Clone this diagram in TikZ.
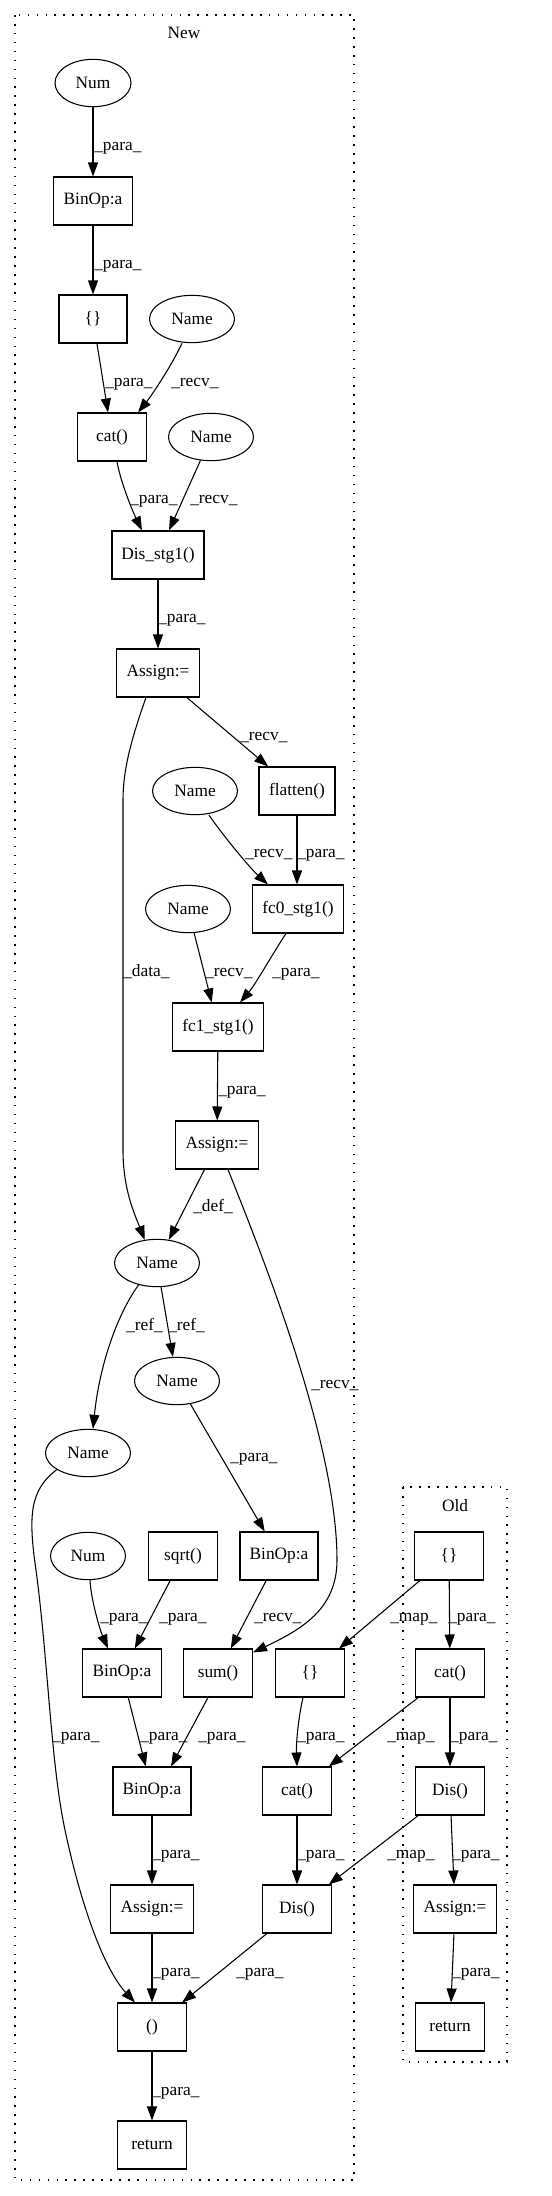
\documentclass[tikz,border=0pt]{standalone}
\usepackage{fontspec}
\setmainfont{Liberation Serif}
\usetikzlibrary{arrows.meta,calc,shapes.geometric}
\begin{document}
\begin{tikzpicture}[x=0.75pt,y=-0.75pt,
  every node/.style={font=\fontsize{13pt}{15pt}\selectfont},
  box/.style={draw,rectangle,line width=0.8pt,minimum height=36pt,inner sep=0pt},
  ell/.style={draw,ellipse,line width=0.8pt,minimum height=35.5pt,minimum width=63.75pt,inner sep=0pt},
  lbl/.style={anchor=base west,inner sep=0pt},
  edge/.style={line width=0.8pt,-{Triangle[length=10.5pt,width=7.5pt]}},
  cluster/.style={line width=0.9pt,dash pattern=on 1.2pt off 5.5pt}]
\useasboundingbox (0,0) rectangle (551,2196);
% clusters
\draw[cluster] (15,15) rectangle (354,2180);
\node[anchor=base] (tnew) at (184,38) {New};
\draw[cluster] (403,1487) rectangle (507,2062);
\node[anchor=base] (told) at (455,1511) {Old};
% New nodes
\node[ell,minimum width=57pt] (num1) at (93,83) {Num};
\node[box,minimum width=59.25pt] (bin1) at (93,201) {BinOp:a};
\node[box,minimum width=51pt] (br1) at (93,319) {\{\}};
\node[ell] (name1) at (192,319) {Name};
\node[box,minimum width=51.75pt] (cat1) at (112,437) {cat()};
\node[ell] (name2) at (211,437) {Name};
\node[box,minimum width=69pt] (dis1) at (158,555) {Dis\_stg1()};
\node[box,minimum width=62.25pt] (asg1) at (158,673) {Assign:=};
\node[ell] (name3) at (195,791) {Name};
\node[box,minimum width=57pt] (flat) at (297,791) {flatten()};
\node[ell] (name4) at (188,909) {Name};
\node[box,minimum width=68.25pt] (fc0) at (298,909) {fc0\_stg1()};
\node[box,minimum width=68.25pt] (fc1) at (218,1027) {fc1\_stg1()};
\node[box,minimum width=62.25pt] (asg2) at (217,1145) {Assign:=};
\node[ell] (name5) at (157,1263) {Name};
\node[ell] (name6) at (177,1381) {Name};
\node[ell] (name7) at (88,1453) {Name};
\node[ell,minimum width=56.25pt] (num2) at (88,1556) {Num};
\node[box,minimum width=51.75pt] (sqrt) at (183,1556) {sqrt()};
\node[box,minimum width=58.5pt] (bin2) at (279,1556) {BinOp:a};
\node[box,minimum width=59.25pt] (bin3) at (122,1673) {BinOp:a};
\node[box,minimum width=51.75pt] (sum) at (218,1673) {sum()};
\node[box,minimum width=51.75pt] (br2) at (310,1673) {\{\}};
\node[box,minimum width=58.5pt] (bin4) at (152,1791) {BinOp:a};
\node[box,minimum width=51.75pt] (cat2) at (297,1791) {cat()};
\node[box,minimum width=62.25pt] (asg3) at (152,1909) {Assign:=};
\node[box,minimum width=51.75pt] (dis2) at (297,1909) {Dis()};
\node[box,minimum width=51.75pt] (tup) at (152,2027) {()};
\node[box,minimum width=51.75pt] (ret1) at (152,2145) {return};
% Old nodes
\node[box,minimum width=51.75pt] (br3) at (449,1556) {\{\}};
\node[box,minimum width=51.75pt] (cat3) at (450,1673) {cat()};
\node[box,minimum width=51.75pt] (dis3) at (450,1791) {Dis()};
\node[box,minimum width=62.25pt] (asg4) at (455,1909) {Assign:=};
\node[box,minimum width=51.75pt] (ret2) at (450,2027) {return};
% edges
\draw[edge] (num1) -- (bin1);
\draw[edge] (bin1) -- (br1);
\draw[edge] (br1) -- (cat1);
\draw[edge] ($(name1.south)+(-10,0)$) .. controls (172,365) and (152,395) .. ($(cat1.north)+(26,0)$);
\draw[edge] ($(cat1.south)+(5,0)$) .. controls (120,480) and (132,510) .. ($(dis1.north)+(-16,0)$);
\draw[edge] (name2) -- (dis1);
\draw[edge] (dis1) -- (asg1);
\draw[edge] (asg1) -- (flat);
\draw[edge] ($(asg1.south)+(-12,0)$) .. controls (131,740) and (123,770) .. (123,800) -- (123,1150) .. controls (123,1190) and (135,1215) .. (name5.118);
\draw[edge] ($(name3.south)+(14,0)$) .. controls (225,838) and (250,868) .. ($(fc0.north)+(-30,0)$);
\draw[edge] (flat.south) -- (flat.south |- fc0.north);
\draw[edge] (name4) -- (fc1);
\draw[edge] ($(fc0.south)+(-12,0)$) .. controls (275,950) and (255,985) .. ($(fc1.north)+(22,0)$);
\draw[edge] (fc1) -- (asg2);
\draw[edge] (asg2) -- (name5);
\draw[edge] ($(asg2.south)+(11,0)$) .. controls (260,1250) and (337,1440) .. (337,1560) .. controls (337,1610) and (300,1630) .. ($(sum.north east)+(0,4)$);
\draw[edge] (name5) -- (name6);
\draw[edge] (name5.-130) .. controls (120,1310) and (100,1360) .. ($(name7.north)+(5,0)$);
\draw[edge] (name6) -- (bin2);
\draw[edge] (name7.-152) .. controls (30,1490) and (28,1515) .. (36,1570) .. controls (48,1660) and (51,1765) .. (65,1830) .. controls (82,1910) and (105,1970) .. ($(tup.north)+(-17,0)$);
\draw[edge] ($(num2.south)+(2,0)$) .. controls (91,1600) and (100,1630) .. ($(bin3.north)+(-14,0)$);
\draw[edge] (sqrt) -- (bin3);
\draw[edge] (bin2) -- (sum);
\draw[edge] (bin3) -- (bin4);
\draw[edge] ($(sum.south)+(-10,0)$) -- ($(bin4.north)+(19,0)$);
\draw[edge] ($(br2.south)+(-7,0)$) .. controls (299,1715) and (296,1740) .. (cat2.north);
\draw[edge] (bin4) -- (asg3);
\draw[edge] (cat2) -- (dis2);
\draw[edge] (asg3) -- (tup);
\draw[edge] (dis2) -- (tup);
\draw[edge] (tup) -- (ret1);
\draw[edge] (br3) -- (cat3);
\draw[edge] (br3) -- (br2);
\draw[edge] (cat3) -- (cat2);
\draw[edge] (cat3) -- (dis3);
\draw[edge] (dis3) -- (dis2);
\draw[edge] (dis3) -- (asg4);
\draw[edge] (asg4) -- (ret2);
% labels
\node[lbl] (l1) at (94,150) {\_para\_};
\node[lbl] (l2) at (94,268) {\_para\_};
\node[lbl] (l3) at (105,386) {\_para\_};
\node[lbl] (l4) at (171,386) {\_recv\_};
\node[lbl] (l5) at (130,503) {\_para\_};
\node[lbl] (l6) at (190,503) {\_recv\_};
\node[lbl] (l7) at (158,622) {\_para\_};
\node[lbl] (l8) at (240,740) {\_recv\_};
\node[lbl] (l9) at (123,976) {\_data\_};
\node[lbl] (l10) at (245,857) {\_recv\_};
\node[lbl] (l11) at (297,857) {\_para\_};
\node[lbl] (l12) at (205,976) {\_recv\_};
\node[lbl] (l13) at (272,976) {\_para\_};
\node[lbl] (l14) at (218,1094) {\_para\_};
\node[lbl] (l15) at (193,1211) {\_def\_};
\node[lbl] (l16) at (311,1388) {\_recv\_};
\node[lbl] (l17) at (168,1330) {\_ref\_};
\node[lbl] (l18) at (126,1330) {\_ref\_};
\node[lbl] (l19) at (230,1461) {\_para\_};
\node[lbl] (l20) at (52,1740) {\_para\_};
\node[lbl] (l21) at (100,1621) {\_para\_};
\node[lbl] (l22) at (159,1621) {\_para\_};
\node[lbl] (l23) at (254,1621) {\_recv\_};
\node[lbl] (l24) at (140,1740) {\_para\_};
\node[lbl] (l25) at (198,1740) {\_para\_};
\node[lbl] (l26) at (297,1740) {\_para\_};
\node[lbl] (l27) at (152,1858) {\_para\_};
\node[lbl] (l28) at (297,1858) {\_para\_};
\node[lbl] (l29) at (152,1976) {\_para\_};
\node[lbl] (l30) at (236,1976) {\_para\_};
\node[lbl] (l31) at (152,2095) {\_para\_};
\node[lbl] (l32) at (448,1621) {\_para\_};
\node[lbl] (l33) at (390,1621) {\_map\_};
\node[lbl] (l34) at (387,1740) {\_map\_};
\node[lbl] (l35) at (450,1740) {\_para\_};
\node[lbl] (l36) at (387,1858) {\_map\_};
\node[lbl] (l37) at (452,1858) {\_para\_};
\node[lbl] (l38) at (452,1976) {\_para\_};
\end{tikzpicture}
\end{document}
